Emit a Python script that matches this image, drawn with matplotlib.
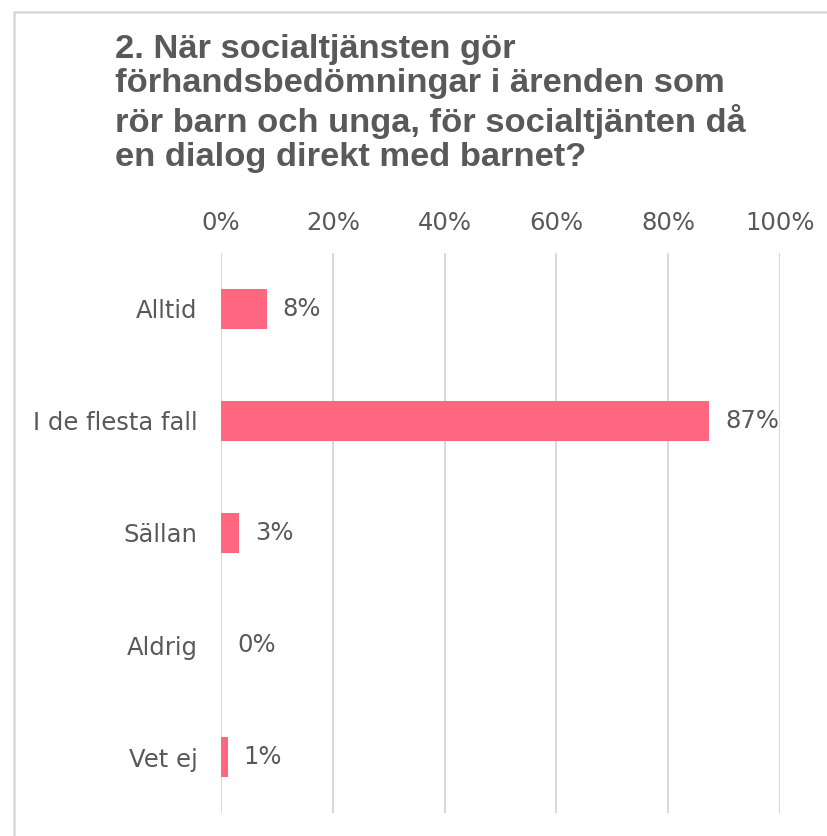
import matplotlib
matplotlib.use("Agg")
import matplotlib.pyplot as plt
from matplotlib.patches import Rectangle

categories = ["Alltid", "I de flesta fall", "Sällan", "Aldrig", "Vet ej"]
values = [8.2, 87.3, 3.2, 0.0, 1.2]
value_labels = ["8%", "87%", "3%", "0%", "1%"]
xticks = [0, 20, 40, 60, 80, 100]
xtick_labels = ["0%", "20%", "40%", "60%", "80%", "100%"]
title = ("2. När socialtjänsten gör\nförhandsbedömningar i ärenden som\n"
         "rör barn och unga, för socialtjänten då\nen dialog direkt med barnet?")

W, H = 828, 836
fig = plt.figure(figsize=(W/100, H/100), dpi=100)
txt = "#595959"
grid = "#D9D9D9"
bar_c = "#FF6680"

# outer border
fig.patches.append(Rectangle((14/W, -0.1), 2, 1 - 12/H + 0.1, transform=fig.transFigure,
                             fill=False, edgecolor=grid, linewidth=1.8))

fig.text(115/W, 1 - 34/H, title, ha="left", va="top", fontsize=24.8,
         fontweight="bold", color=txt, family="Liberation Sans", linespacing=1.145)

ax = fig.add_axes([221/W, 1 - 813/H, 559/W, 560/H])
y = list(range(len(categories)))
ax.barh(y, values, height=0.36, color=bar_c, zorder=3)
ax.set_ylim(len(categories) - 0.5, -0.5)
ax.set_xlim(0, 100)
ax.set_xticks(xticks)
ax.set_xticklabels(xtick_labels)
ax.xaxis.tick_top()
ax.tick_params(axis="x", length=0, pad=13, labelsize=17.5, labelcolor=txt)
ax.set_yticks(y)
ax.set_yticklabels(categories)
ax.tick_params(axis="y", length=0, pad=17, labelsize=17.5, labelcolor=txt)
ax.grid(axis="x", color=grid, linewidth=1.5, zorder=0)
for s in ax.spines.values():
    s.set_visible(False)
for yi, v, lab in zip(y, values, value_labels):
    ax.annotate(lab, (v, yi), xytext=(16, 0), textcoords="offset pixels",
                ha="left", va="center", fontsize=17.5, color=txt)

fig.savefig("out.png", dpi=100)
